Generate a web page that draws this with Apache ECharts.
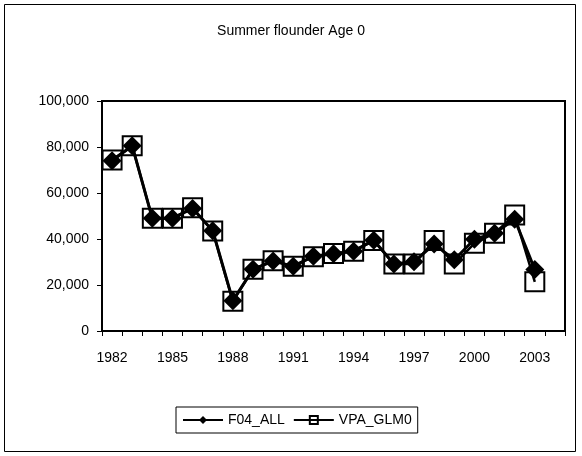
<!DOCTYPE html>
<html>
<head>
<meta charset="utf-8">
<script src="https://cdn.jsdelivr.net/npm/echarts@6/dist/echarts.min.js"></script>
<style>
  html, body { margin: 0; padding: 0; background: #fff; }
  #main { width: 582px; height: 456px; }
</style>
</head>
<body>
<div id="main"></div>
<script>
// years on the x axis (last one has no data)
var years = ['1982', '1983', '1984', '1985', '1986', '1987', '1988', '1989', '1990', '1991', '1992',
  '1993', '1994', '1995', '1996', '1997', '1998', '1999', '2000', '2001', '2002', '2003', '2004'];

var f04All = [74000, 80500, 49000, 49000, 53300, 43600, 13200, 26800, 30400, 28200, 32500,
  33600, 34700, 39500, 29100, 30100, 37800, 31000, 39900, 42500, 48600, 26700, null];

var vpaGlm0 = [74400, 80500, 49000, 49000, 53600, 43500, 12900, 26900, 30500, 28100, 32300,
  33700, 34700, 39300, 29100, 29100, 39300, 29100, 38100, 42500, 50400, 21400, null];

var yTicks = { min: 0, max: 100000, step: 20000 };

var font = 'Arial, "Liberation Sans", sans-serif';

var chart = echarts.init(document.getElementById('main'));

chart.setOption({
  animation: false,
  backgroundColor: '#fff',
  title: {
    text: 'Summer flounder Age 0',
    left: 'center',
    top: 19,
    textStyle: { fontFamily: font, fontSize: 14, fontWeight: 'normal', color: '#000' }
  },
  graphic: [{
    type: 'rect',
    shape: { x: 4.5, y: 4.5, width: 571, height: 447 },
    style: { fill: 'none', stroke: '#000', lineWidth: 1 },
    silent: true
  }],
  legend: {
    data: ['F04_ALL', 'VPA_GLM0'],
    left: 176,
    top: 407,
    itemWidth: 40,
    itemHeight: 10,
    itemGap: 8,
    padding: [6, 6],
    borderColor: '#000',
    borderWidth: 1,
    textStyle: { fontFamily: font, fontSize: 14, color: '#000' }
  },
  grid: {
    left: 102, right: 17, top: 101, bottom: 125,
    show: true,
    borderColor: '#000',
    borderWidth: 2
  },
  xAxis: {
    type: 'category',
    data: years,
    boundaryGap: true,
    axisLine: { lineStyle: { color: '#000', width: 2 } },
    axisTick: { show: true, interval: 0, length: 5, lineStyle: { color: '#000' } },
    axisLabel: { interval: 2, margin: 20, fontFamily: font, fontSize: 14, color: '#000' },
    splitLine: { show: false }
  },
  yAxis: {
    type: 'value',
    min: yTicks.min,
    max: yTicks.max,
    interval: yTicks.step,
    axisLine: { show: true, lineStyle: { color: '#000', width: 2 } },
    axisTick: { show: true, length: 5, lineStyle: { color: '#000' } },
    axisLabel: {
      margin: 13,
      fontFamily: font, fontSize: 14, color: '#000',
      formatter: function (v) { return v.toLocaleString('en-US'); }
    },
    splitLine: { show: false }
  },
  series: [
    {
      name: 'VPA_GLM0',
      type: 'line',
      data: vpaGlm0,
      symbol: 'rect',
      symbolSize: 19,
      showAllSymbol: true,
      color: '#000',
      lineStyle: { color: '#000', width: 2.5 },
      itemStyle: { color: 'rgba(255,255,255,0)', borderColor: '#000', borderWidth: 2 }
    },
    {
      name: 'F04_ALL',
      type: 'line',
      data: f04All,
      symbol: 'diamond',
      symbolSize: 19,
      showAllSymbol: true,
      color: '#000',
      lineStyle: { color: '#000', width: 3 },
      itemStyle: { color: '#000' }
    }
  ]
});
</script>
</body>
</html>
